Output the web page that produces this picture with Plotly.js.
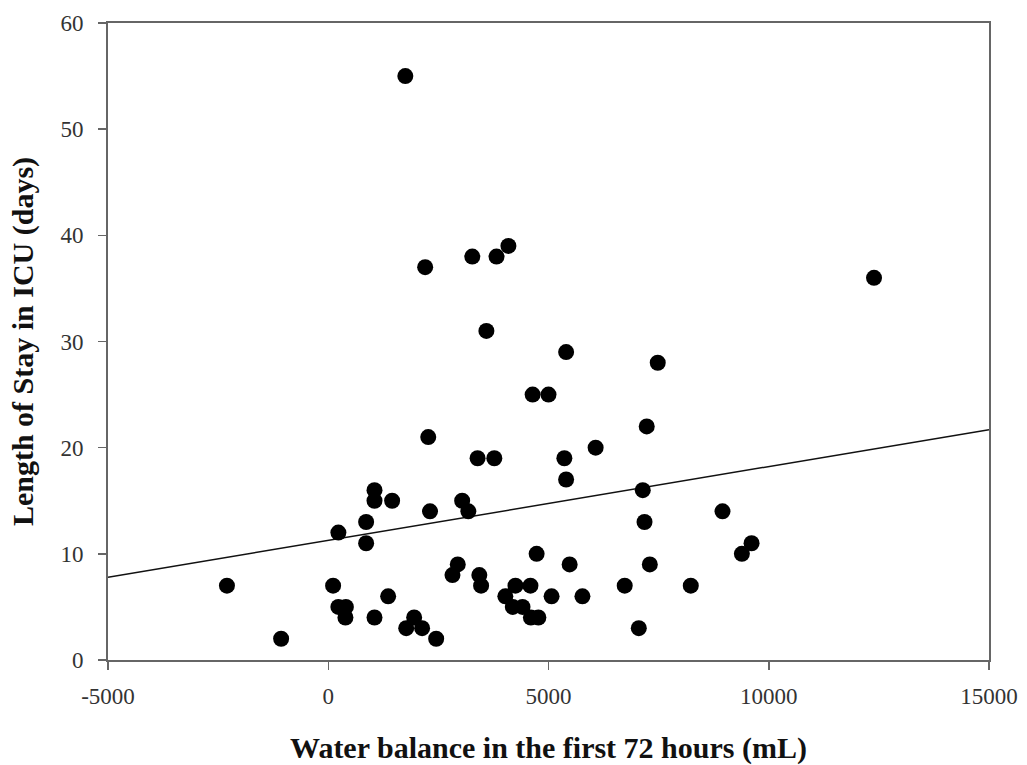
<!DOCTYPE html>
<html>
<head>
<meta charset="utf-8">
<script src="https://cdn.plot.ly/plotly-3.0.1.min.js"></script>
<style>html,body{margin:0;padding:0;background:#fff;}#chart{width:1027px;height:765px;}</style>
</head>
<body>
<div id="chart"></div>
<script>
// Water balance in the first 72 hours (mL)
const waterBalance = [
  -2300, -1070, 110, 230, 230, 400, 390, 860, 860, 1050,
  1050, 1050, 1360, 1450, 1750, 1770, 1950, 2130, 2200, 2270,
  2310, 2450, 2820, 2940, 3040, 3180, 3270, 3390, 3430, 3470,
  3590, 3770, 3820, 4020, 4090, 4190, 4250, 4410, 4590, 4600,
  4640, 4730, 4770, 5000, 5070, 5360, 5400, 5400, 5480, 5770,
  6070, 6730, 7050, 7140, 7180, 7230, 7300, 7480, 8230, 8950,
  9390, 9610, 12390
];
// Length of stay in ICU (days)
const icuStay = [
  7, 2, 7, 12, 5, 5, 4, 13, 11, 16,
  15, 4, 6, 15, 55, 3, 4, 3, 37, 21,
  14, 2, 8, 9, 15, 14, 38, 19, 8, 7,
  31, 19, 38, 6, 39, 5, 7, 5, 7, 4,
  25, 10, 4, 25, 6, 19, 29, 17, 9, 6,
  20, 7, 3, 16, 13, 22, 9, 28, 7, 14,
  10, 11, 36
];
// Regression line
const trendIntercept = 11.27;
const trendSlope = 0.000695;
const xRange = [-5000, 15000];
const yRange = [0, 60];
const xTicks = [-5000, 0, 5000, 10000, 15000];
const yTicks = [0, 10, 20, 30, 40, 50, 60];

const trendX = xRange.slice();
const trendY = trendX.map(x => trendIntercept + trendSlope * x);

const serif = 'Liberation Serif, Times New Roman, serif';

const traces = [
  {
    x: trendX, y: trendY, mode: 'lines', type: 'scatter',
    line: {color: '#111', width: 1.5}, hoverinfo: 'skip', showlegend: false
  },
  {
    x: waterBalance, y: icuStay, mode: 'markers', type: 'scatter',
    marker: {color: '#000', size: 16}, showlegend: false
  }
];

const layout = {
  width: 1027, height: 765,
  margin: {l: 108, r: 38, t: 23, b: 105},
  paper_bgcolor: '#fff', plot_bgcolor: '#fff',
  font: {family: serif, color: '#333', size: 23},
  xaxis: {
    range: xRange, tickvals: xTicks, ticktext: xTicks.map(String),
    showgrid: false, zeroline: false,
    showline: true, linecolor: '#666', linewidth: 2, mirror: true,
    ticks: 'outside', ticklen: 8, tickwidth: 1.5, tickcolor: '#666',
    ticklabelstandoff: 6,
    tickfont: {family: serif, size: 23, color: '#333'},
    title: {text: '<b>Water balance in the first 72 hours (mL)</b>', font: {family: serif, size: 30, color: '#111'}, standoff: 29}
  },
  yaxis: {
    range: yRange, tickvals: yTicks, ticktext: yTicks.map(String),
    showgrid: false, zeroline: false,
    showline: true, linecolor: '#666', linewidth: 2, mirror: true,
    ticks: 'outside', ticklen: 8, tickwidth: 1.5, tickcolor: '#666',
    ticklabelstandoff: 10,
    tickfont: {family: serif, size: 23, color: '#333'},
    title: {text: '<b>Length of Stay in ICU (days)</b>', font: {family: serif, size: 30, color: '#111'}, standoff: 18}
  }
};

Plotly.newPlot('chart', traces, layout, {displayModeBar: false, staticPlot: true});
</script>
</body>
</html>
